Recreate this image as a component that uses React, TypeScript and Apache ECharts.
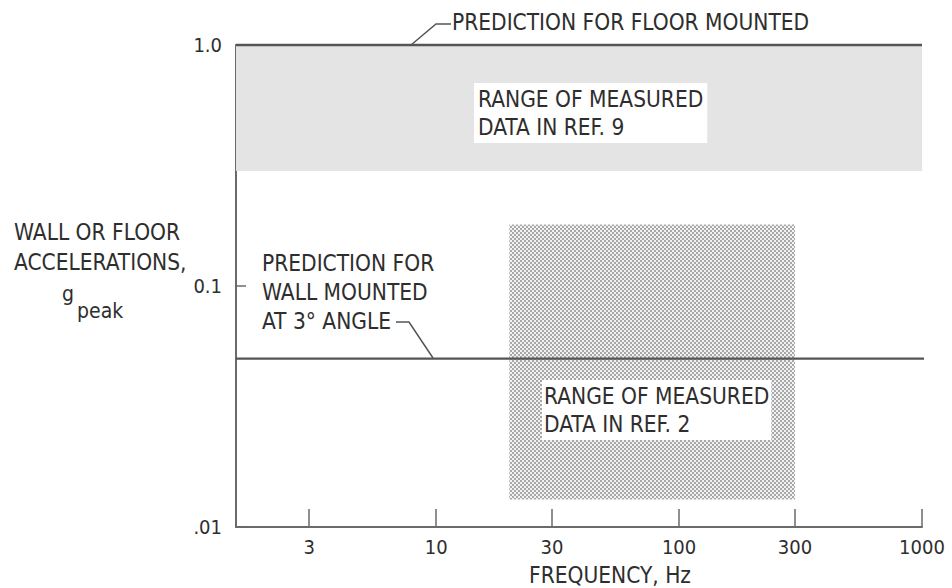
import React, { useEffect, useRef } from 'react';
import * as echarts from 'echarts';

// ---- data ----
const freqExtent = [1.5, 1000];
const accelExtent = [0.01, 1];
const xTickValues = [3, 10, 30, 100, 300, 1000];
const xTickLabels = ['3', '10', '30', '100', '300', '1000'];
const yTickValues = [0.01, 0.1, 1];
const yTickLabels = ['.01', '0.1', '1.0'];
const floorPredictionFreq = [1.5, 1000];
const floorPredictionAccel = [1.0, 1.0];
const wallPredictionFreq = [1.5, 1280];
const wallPredictionAccel = [0.05, 0.05];
const ref9Freq = [1.5, 1000];
const ref9Accel = [0.3, 1.0];
const ref2Freq = [20, 300];
const ref2Accel = [0.013, 0.18];

const FONT = '"DejaVu Sans Condensed", "Liberation Sans Narrow", "DejaVu Sans", sans-serif';
const INK = '#2e2e2e';
const AXIS = '#6a6a6a';

function nearestLabel(v: number, values: number[], labels: string[]) {
  let best = -1;
  let bd = Infinity;
  values.forEach((t, i) => {
    const d = Math.abs(Math.log10(v) - Math.log10(t));
    if (d < bd) { bd = d; best = i; }
  });
  return bd < 0.01 ? labels[best] : '';
}

function makeHalftone() {
  const c = document.createElement('canvas');
  c.width = 4;
  c.height = 4;
  const ctx = c.getContext('2d')!;
  ctx.fillStyle = '#f2f2f2';
  ctx.fillRect(0, 0, 4, 4);
  ctx.fillStyle = '#858585';
  ctx.beginPath();
  ctx.arc(1, 1, 0.9, 0, Math.PI * 2);
  ctx.fill();
  ctx.beginPath();
  ctx.arc(3, 3, 0.9, 0, Math.PI * 2);
  ctx.fill();
  return c;
}

const renderRange = (fill: any) => (params: any, api: any) => {
  const p0 = api.coord([api.value(0), api.value(2)]);
  const p1 = api.coord([api.value(1), api.value(3)]);
  return {
    type: 'rect',
    shape: { x: p0[0], y: p1[1], width: p1[0] - p0[0], height: p0[1] - p1[1] },
    style: { fill },
  };
};

const zip = (a: number[], b: number[]) => a.map((v, i) => [v, b[i]]);

export default function App() {
  const ref = useRef<HTMLDivElement>(null);
  useEffect(() => {
    if (!ref.current) return;
    const chart = echarts.init(ref.current, undefined, { renderer: 'svg' });
    const halftone = { image: makeHalftone(), repeat: 'repeat', imageWidth: 4, imageHeight: 4 };
    const txt = (text: string, x: number, y: number, extra: any = {}) => ({
      type: 'text',
      x,
      y,
      z: 100,
      style: {
        text,
        fill: INK,
        fontFamily: FONT,
        fontSize: 22.5,
        verticalAlign: 'middle',
        align: 'left',
        ...extra,
      },
    });
    chart.setOption({
      animation: false,
      backgroundColor: '#ffffff',
      grid: { left: 236, right: 30, top: 45, bottom: 61, containLabel: false },
      xAxis: {
        type: 'log',
        logBase: 10,
        min: freqExtent[0],
        max: freqExtent[1],
        axisLine: { show: true, lineStyle: { color: AXIS, width: 2 } },
        axisTick: {
          show: true,
          inside: true,
          length: 18,
          customValues: xTickValues,
          lineStyle: { color: AXIS, width: 1.5 },
        },
        axisLabel: {
          customValues: xTickValues,
          formatter: (v: number) => nearestLabel(v, xTickValues, xTickLabels),
          fontFamily: FONT,
          fontSize: 20,
          color: INK,
          margin: 10,
        },
        splitLine: { show: false },
        minorTick: { show: false },
      },
      yAxis: {
        type: 'log',
        logBase: 10,
        min: accelExtent[0],
        max: accelExtent[1],
        axisLine: { show: true, lineStyle: { color: AXIS, width: 2 } },
        axisTick: {
          show: true,
          inside: true,
          length: 10,
          customValues: yTickValues,
          lineStyle: { color: AXIS, width: 1.5 },
        },
        axisLabel: {
          customValues: yTickValues,
          formatter: (v: number) => nearestLabel(v, yTickValues, yTickLabels),
          fontFamily: FONT,
          fontSize: 20,
          color: INK,
          margin: 14,
        },
        splitLine: { show: false },
        minorTick: { show: false },
      },
      series: [
        {
          name: 'Range of measured data in Ref. 9',
          type: 'custom',
          z: 1,
          renderItem: renderRange('#e4e4e4'),
          encode: { x: [0, 1], y: [2, 3] },
          data: [[ref9Freq[0], ref9Freq[1], ref9Accel[0], ref9Accel[1]]],
        },
        {
          name: 'Range of measured data in Ref. 2',
          type: 'custom',
          z: 2,
          renderItem: renderRange(halftone),
          encode: { x: [0, 1], y: [2, 3] },
          data: [[ref2Freq[0], ref2Freq[1], ref2Accel[0], ref2Accel[1]]],
        },
        {
          name: 'Prediction for floor mounted',
          type: 'line',
          z: 5,
          symbol: 'none',
          clip: false,
          lineStyle: { color: '#555555', width: 2.5 },
          data: zip(floorPredictionFreq, floorPredictionAccel),
        },
        {
          name: 'Prediction for wall mounted at 3° angle',
          type: 'line',
          z: 5,
          symbol: 'none',
          clip: false,
          lineStyle: { color: '#555555', width: 2.2 },
          data: zip(wallPredictionFreq, wallPredictionAccel),
        },
      ],
      graphic: [
        {
          type: 'polyline',
          z: 100,
          shape: { points: [[411, 45], [436, 24], [451, 24]] },
          style: { stroke: '#555', lineWidth: 1.5, fill: 'none' },
        },
        txt('PREDICTION FOR FLOOR MOUNTED', 452, 22),
        txt('RANGE OF MEASURED\nDATA IN REF. 9', 474, 83, {
          verticalAlign: 'top',
          lineHeight: 28,
          backgroundColor: '#ffffff',
          padding: [2, 4, 2, 4],
        }),
        txt('PREDICTION FOR\nWALL MOUNTED\nAT 3° ANGLE', 262, 292, { lineHeight: 29 }),
        {
          type: 'polyline',
          z: 100,
          shape: { points: [[396, 322], [409, 322], [433, 358]] },
          style: { stroke: '#555', lineWidth: 1.5, fill: 'none' },
        },
        txt('RANGE OF MEASURED\nDATA IN REF. 2', 542, 380, {
          verticalAlign: 'top',
          lineHeight: 28,
          backgroundColor: '#ffffff',
          padding: [2, 2, 2, 2],
        }),
        txt('WALL OR FLOOR', 14, 232),
        txt('ACCELERATIONS,', 14, 262),
        txt('g', 62, 294, { fontSize: 21 }),
        txt('peak', 77, 311, { fontSize: 21 }),
        txt('FREQUENCY, Hz', 610, 575, { align: 'center' }),
      ],
    });
    return () => chart.dispose();
  }, []);
  return (
    <div
      ref={ref}
      style={{ position: 'fixed', left: 0, top: 0, width: 952, height: 588, background: '#fff' }}
    />
  );
}
